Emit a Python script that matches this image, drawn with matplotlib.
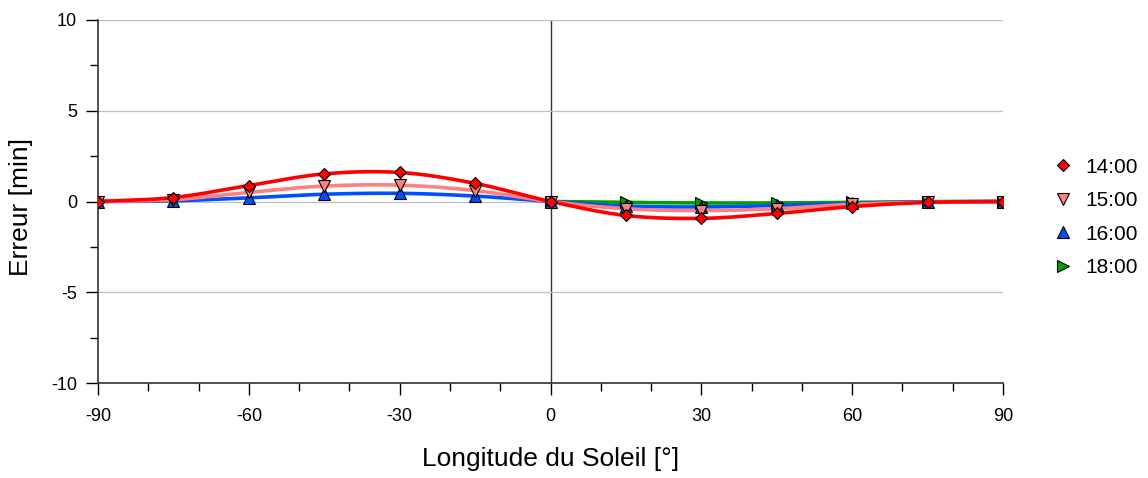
import numpy as np
import matplotlib
matplotlib.use("Agg")
import matplotlib.pyplot as plt
from matplotlib.ticker import MultipleLocator

plt.rcParams['font.family'] = ['Liberation Sans', 'DejaVu Sans']
plt.rcParams['axes.unicode_minus'] = False

# longitude du soleil [deg]
lon = [-90, -75, -60, -45, -30, -15, 0, 15, 30, 45, 60, 75, 90]
lon_18 = [0, 15, 30, 45, 60, 75, 90]

# erreur [min]
err_14 = [0, 0.22, 0.88, 1.52, 1.6, 1.0, 0, -0.77, -0.93, -0.66, -0.28, -0.05, 0]
err_15 = [0, 0.1, 0.5, 0.85, 0.9, 0.6, 0, -0.4, -0.5, -0.4, -0.15, -0.04, 0]
err_16 = [0, 0.04, 0.2, 0.4, 0.45, 0.3, 0, -0.25, -0.3, -0.22, -0.1, -0.02, 0]
err_18 = [0, -0.05, -0.08, -0.08, -0.05, -0.01, 0]

series = [
    ("14:00", lon, err_14, "#ff0000", "D", 6),
    ("15:00", lon, err_15, "#ff8080", "v", 8),
    ("16:00", lon, err_16, "#0050ff", "^", 8),
    ("18:00", lon_18, err_18, "#00a000", ">", 8),
]


def smooth(x, y, n=30):
    # courbe lissee facon tableur (Catmull-Rom)
    x = np.asarray(x, float)
    y = np.asarray(y, float)
    px = np.concatenate([[2 * x[0] - x[1]], x, [2 * x[-1] - x[-2]]])
    py = np.concatenate([[2 * y[0] - y[1]], y, [2 * y[-1] - y[-2]]])
    xs, ys = [], []
    t = np.linspace(0, 1, n)
    for i in range(1, len(px) - 2):
        for p, out in ((px, xs), (py, ys)):
            p0, p1, p2, p3 = p[i - 1], p[i], p[i + 1], p[i + 2]
            out.append(0.5 * (2 * p1 + (-p0 + p2) * t
                              + (2 * p0 - 5 * p1 + 4 * p2 - p3) * t ** 2
                              + (-p0 + 3 * p1 - 3 * p2 + p3) * t ** 3))
    return np.concatenate(xs), np.concatenate(ys)


fig = plt.figure(figsize=(11.48, 4.78), dpi=100)
ax = fig.add_axes([0.0854, 0.1987, 0.7883, 0.7595])

ax.axvline(0, color="#333333", lw=1.0, zorder=1)

# lignes d'abord (ordre inverse), puis marqueurs
for name, x, y, c, m, s in reversed(series):
    sx, sy = smooth(x, y)
    ax.plot(sx, sy, color=c, lw=2.6, zorder=2, solid_capstyle="butt")
for name, x, y, c, m, s in reversed(series):
    ax.plot(x, y, ls="none", marker=m, ms=s, mfc=c, mec="black", mew=0.8,
            zorder=3, label=name)

ax.set_xlim(-90, 90)
ax.set_ylim(-10, 10)
ax.xaxis.set_major_locator(MultipleLocator(30))
ax.xaxis.set_minor_locator(MultipleLocator(10))
ax.yaxis.set_major_locator(MultipleLocator(5))
ax.yaxis.set_minor_locator(MultipleLocator(2.5))
ax.tick_params(which="major", direction="out", length=8.5, width=1, labelsize=13)
ax.tick_params(which="minor", direction="out", length=6, width=1)
ax.tick_params(axis="x", pad=9.5)
ax.tick_params(axis="y", pad=6.5)
ax.grid(axis="y", which="major", color="#c0c0c0", lw=0.9, zorder=0)
for side in ("top", "right"):
    ax.spines[side].set_visible(False)
for side in ("left", "bottom"):
    ax.spines[side].set_color("#333333")
    ax.spines[side].set_linewidth(1.2)

ax.set_xlabel("Longitude du Soleil [°]", fontsize=19)
ax.set_ylabel("Erreur [min]", fontsize=19)
ax.xaxis.set_label_coords(0.5, -0.176)
ax.yaxis.set_label_coords(-0.072, 0.485)

h, l = ax.get_legend_handles_labels()
fig.legend(h[::-1], l[::-1], loc="center left", bbox_to_anchor=(0.9024, 0.545),
           frameon=False, fontsize=15, labelspacing=0.7, handlelength=0.8,
           handletextpad=0.66)

fig.savefig("out.png", dpi=100)
